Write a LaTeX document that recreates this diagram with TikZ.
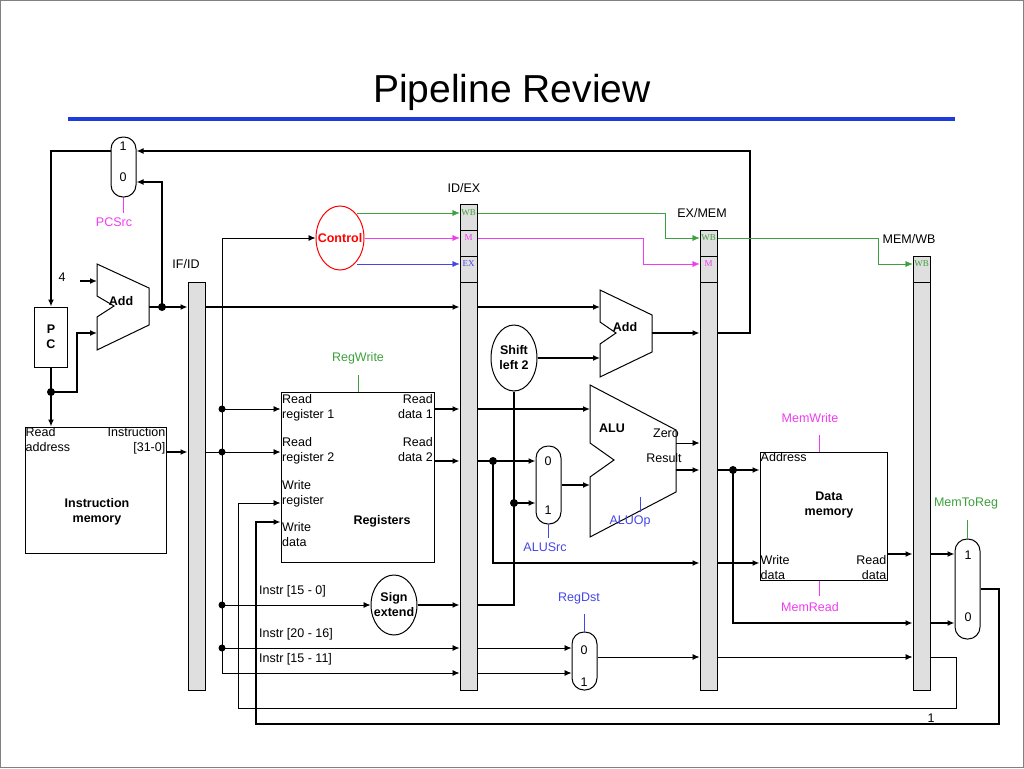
\documentclass[tikz,border=0pt]{standalone}
\usepackage{fontspec}
\setmainfont{Liberation Sans}
\newfontfamily\serf{Liberation Serif}
\usetikzlibrary{arrows,arrows.meta,shapes,positioning,calc}
\definecolor{wbgreen}{RGB}{60,160,60}
\definecolor{mmag}{RGB}{240,60,240}
\definecolor{exblue}{RGB}{70,70,230}
\definecolor{titleblue}{RGB}{30,60,220}
\begin{document}
\begin{tikzpicture}[x=1pt, y=-1pt, >={Latex[length=7pt,width=6pt]},
    bus/.style={line width=2pt},
    sig/.style={line width=0.9pt},
    box/.style={draw, line width=1pt, inner sep=0},
    mux/.style={draw, line width=1pt, rounded corners=12pt, minimum width=25pt, inner sep=0},
    bar/.style={draw, fill=gray!25, line width=1pt, minimum width=17pt, inner sep=0, anchor=north},
    txt/.style={font=\fontsize{12.5}{15}\selectfont, inner sep=1pt},
    btxt/.style={font=\fontsize{12.5}{15}\selectfont\bfseries, inner sep=1pt, align=center},
    seg/.style={font=\fontsize{9}{10}\selectfont\serf, inner sep=0}]
    \useasboundingbox (0,0) rectangle (1024,768);
    \draw[gray, line width=1pt] (0.5,0.5) rectangle (1023.5,767.5);
    \node[font=\fontsize{39}{43}\selectfont] (title) at (512,92) {Pipeline Review};
    \draw[titleblue, line width=3.5pt] (68,119) -- (955,119);
    %%%%%%%%%% pipeline registers
    \node[bar, minimum height=408pt] (ifid) at (196.5,282) {};
    \node[bar, minimum height=486pt] (idex) at (468.5,204) {};
    \node[bar, minimum height=460pt] (exmem) at (708.5,230) {};
    \node[bar, minimum height=434pt] (memwb) at (921.5,256) {};
    \node[txt] at (186,264) {IF/ID};
    \node[txt] at (464,188) {ID/EX};
    \node[txt] at (702,213) {EX/MEM};
    \node[txt] at (909,239) {MEM/WB};
    \draw[line width=1pt] (460,230) -- (477,230) (460,256) -- (477,256) (460,282) -- (477,282);
    \draw[line width=1pt] (700,256) -- (717,256) (700,282) -- (717,282);
    \draw[line width=1pt] (913,282) -- (930,282);
    \node[seg, wbgreen] at (468.5,213) {WB};
    \node[seg, mmag] at (468.5,238) {M};
    \node[seg, exblue] at (468.5,264) {EX};
    \node[seg, wbgreen] at (708.5,238) {WB};
    \node[seg, mmag] at (708.5,264) {M};
    \node[seg, wbgreen] at (921.5,264) {WB};
    %%%%%%%%%% IF stage
    \node[mux, minimum height=60pt] (pcmux) at (123.5,167) {};
    \node[txt] at (123,146) {1};
    \node[txt] at (123,177) {0};
    \node[txt, mmag] (pcsrc) at (114,222) {PCSrc};
    \draw[mmag] (pcmux.south) -- (123.5,213);
    \node[box, minimum width=33pt, minimum height=60pt] (pc) at (51,337) {};
    \node[btxt, align=center] at (pc) {P\\C};
    \draw[line width=1pt] (97,264) -- (149,288) -- (149,325) -- (97,350) -- (97,317) -- (114,306) -- (97,296) -- cycle;
    \node[btxt] (add1) at (121,301) {Add};
    \node[txt] (four) at (62,277) {4};
    \node[box, minimum width=141pt, minimum height=126pt] (imem) at (95.5,490) {};
    \node[txt, align=left, anchor=north west] at (imem.north west) {Read\\address};
    \node[txt, align=right, anchor=north east] at (imem.north east) {Instruction\\{[31-0]}};
    \node[btxt] at (97,512) {Instruction\\memory};
    %%%%%%%%%% ID stage
    \node[draw, ellipse, red, line width=1pt, minimum width=48pt, minimum height=64pt, inner sep=0] (ctrl) at (340,238) {};
    \node[btxt, red] at (ctrl) {Control};
    \node[box, minimum width=153pt, minimum height=170pt] (regs) at (357.5,477) {};
    \node[txt, align=left, anchor=north west] at (281,393) {Read\\register 1};
    \node[txt, align=right, anchor=north east] at (434,393) {Read\\data 1};
    \node[txt, align=left, anchor=north west] at (281,436) {Read\\register 2};
    \node[txt, align=right, anchor=north east] at (434,436) {Read\\data 2};
    \node[txt, align=left, anchor=north west] at (281,479) {Write\\register};
    \node[txt, align=left, anchor=north west] at (281,521) {Write\\data};
    \node[btxt] at (382,521) {Registers};
    \node[txt, wbgreen] (regwrite) at (358,358) {RegWrite};
    \draw[wbgreen] (358,375) -- (regs.north -| 358,0);
    \node[draw, ellipse, line width=1pt, minimum width=46pt, minimum height=60pt, inner sep=0] (sext) at (394,605) {};
    \node[btxt] at (sext) {Sign\\extend};
    \node[txt, anchor=south west] at (258,598) {Instr [15 - 0]};
    \node[txt, anchor=south west] at (258,641) {Instr [20 - 16]};
    \node[txt, anchor=south west] at (258,666) {Instr [15 - 11]};
    %%%%%%%%%% EX stage
    \node[draw, ellipse, line width=1pt, minimum width=46pt, minimum height=66pt, inner sep=0] (shl) at (514,358) {};
    \node[btxt] at (shl) {Shift\\left 2};
    \draw[line width=1pt] (600,290) -- (652,315) -- (652,352) -- (600,377) -- (600,344) -- (616,333) -- (600,322) -- cycle;
    \node[btxt] (add2) at (625,327) {Add};
    \draw[line width=1pt] (590,385) -- (676,430) -- (676,492) -- (590,537) -- (590,477) -- (614,460) -- (590,443) -- cycle;
    \node[btxt] (alu) at (612,428) {ALU};
    \node[txt] at (666,433) {Zero};
    \node[txt] at (664,458) {Result};
    \node[txt, exblue] (aluop) at (630,521) {ALUOp};
    \draw[exblue] (640,497) -- (640,512);
    \node[mux, minimum height=78pt] (srcmux) at (548.5,485) {};
    \node[txt] at (548,461) {0};
    \node[txt] at (548,510) {1};
    \node[txt, exblue] (alusrc) at (545,547) {ALUSrc};
    \draw[exblue] (srcmux.south) -- (548.5,538);
    \node[mux, minimum height=58pt] (dstmux) at (584.5,661) {};
    \node[txt] at (584,650) {0};
    \node[txt] at (584,682) {1};
    \node[txt, exblue] (regdst) at (579,598) {RegDst};
    \draw[exblue] (584.5,614) -- (dstmux.north);
    %%%%%%%%%% MEM and WB stages
    \node[box, minimum width=127pt, minimum height=128pt] (dmem) at (823.5,516) {};
    \node[txt, anchor=north west] at (dmem.north west) {Address};
    \node[btxt] at (829,505) {Data\\memory};
    \node[txt, align=left, anchor=south west] at (dmem.south west) {Write\\data};
    \node[txt, align=right, anchor=south east] at (dmem.south east) {Read\\data};
    \node[txt, mmag] (memwrite) at (810,418) {MemWrite};
    \draw[mmag] (819,435) -- (dmem.north -| 819,0);
    \node[txt, mmag] (memread) at (810,607) {MemRead};
    \draw[mmag] (dmem.south -| 819,0) -- (819,596);
    \node[mux, minimum height=100pt] (wbmux) at (967.5,589) {};
    \node[txt] at (968,555) {1};
    \node[txt] at (968,617) {0};
    \node[txt, wbgreen] (memtoreg) at (966,503) {MemToReg};
    \draw[wbgreen] (967.5,520) -- (wbmux.north);
    \node[txt] at (931,718) {1};
    %%%%%%%%%% IF connections
    \draw[bus, ->] (pcmux.west |- 0,151) -- (51,151) -- (pc.north);
    \draw[bus, ->] (pc.south) -- (imem.north -| pc);
    \fill (51,392) circle (4pt);
    \draw[bus, ->] (51,392) -- (77,392) -- (77,333) -- (97,333);
    \draw[bus, ->] (80,281) -- (97,281);
    \draw[bus, ->] (149,307) -- (ifid.west |- 0,307);
    \fill (162,307) circle (4pt);
    \draw[bus, ->] (162,307) -- (162,182) -- (pcmux.east |- 0,182);
    \draw[bus, ->] (imem.east |- 0,452) -- (ifid.west |- 0,452);
    \draw[bus, ->] (exmem.east |- 0,333) -- (750,333) -- (750,151) -- (pcmux.east |- 0,151);
    %%%%%%%%%% ID connections
    \draw[bus, ->] (ifid.east |- 0,307) -- (idex.west |- 0,307);
    \draw[sig] (ifid.east |- 0,452) -- (222,452);
    \draw[sig, ->] (222,673) -- (222,238) -- (ctrl.west);
    \foreach \yy in {409,452,605,648} \fill (222,\yy) circle (3.5pt);
    \draw[sig, ->] (222,409) -- (regs.west |- 0,409);
    \draw[sig, ->] (222,452) -- (regs.west |- 0,452);
    \draw[sig, ->] (222,605) -- (sext.west);
    \draw[sig, ->] (222,648) -- (idex.west |- 0,648);
    \draw[sig, ->] (222,673) -- (idex.west |- 0,673);
    \draw[wbgreen, ->] (ctrl.north east |- 0,213) -- (idex.west |- 0,213);
    \draw[mmag, ->] (ctrl.east) -- (idex.west |- 0,238);
    \draw[exblue, ->] (ctrl.south east |- 0,264) -- (idex.west |- 0,264);
    \draw[bus, ->] (regs.east |- 0,409) -- (idex.west |- 0,409);
    \draw[bus, ->] (regs.east |- 0,461) -- (idex.west |- 0,461);
    \draw[bus, ->] (sext.east) -- (idex.west |- 0,605);
    %%%%%%%%%% EX connections
    \draw[wbgreen, ->] (idex.east |- 0,213) -- (665,213) -- (665,238) -- (exmem.west |- 0,238);
    \draw[mmag, ->] (idex.east |- 0,238) -- (643,238) -- (643,264) -- (exmem.west |- 0,264);
    \draw[bus, ->] (idex.east |- 0,307) -- (600,307);
    \draw[bus, ->] (shl.east) -- (600,358);
    \draw[bus, ->] (652,333) -- (exmem.west |- 0,333);
    \draw[bus, ->] (idex.east |- 0,409) -- (590,409);
    \draw[bus, ->] (idex.east |- 0,461) -- (srcmux.west |- 0,461);
    \fill (493,461) circle (4pt);
    \draw[bus, ->] (493,461) -- (493,563) -- (exmem.west |- 0,563);
    \draw[bus] (idex.east |- 0,605) -- (514,605) -- (shl.south);
    \fill (514,503) circle (4pt);
    \draw[bus, ->] (514,503) -- (srcmux.west |- 0,503);
    \draw[bus, ->] (srcmux.east) -- (590,485);
    \draw[sig, ->] (676,443) -- (exmem.west |- 0,443);
    \draw[bus, ->] (676,470) -- (exmem.west |- 0,470);
    \draw[sig, ->] (idex.east |- 0,648) -- (dstmux.west |- 0,648);
    \draw[sig, ->] (idex.east |- 0,673) -- (dstmux.west |- 0,673);
    \draw[sig, ->] (dstmux.east |- 0,657) -- (exmem.west |- 0,657);
    %%%%%%%%%% MEM and WB connections
    \draw[wbgreen, ->] (exmem.east |- 0,238) -- (878,238) -- (878,264) -- (memwb.west |- 0,264);
    \draw[bus, ->] (exmem.east |- 0,470) -- (dmem.west |- 0,470);
    \fill (733,470) circle (4pt);
    \draw[bus, ->] (733,470) -- (733,623) -- (memwb.west |- 0,623);
    \draw[bus, ->] (exmem.east |- 0,563) -- (dmem.west |- 0,563);
    \draw[bus, ->] (dmem.east |- 0,554) -- (memwb.west |- 0,554);
    \draw[bus, ->] (memwb.east |- 0,554) -- (wbmux.west |- 0,554);
    \draw[bus, ->] (memwb.east |- 0,623) -- (wbmux.west |- 0,623);
    \draw[sig, ->] (exmem.east |- 0,657) -- (memwb.west |- 0,657);
    \draw[sig, ->] (memwb.east |- 0,657) -- (956,657) -- (956,708) -- (238,708) -- (238,503) -- (regs.west |- 0,503);
    \draw[bus, ->] (wbmux.east) -- (999,589) -- (999,724) -- (256,724) -- (256,522) -- (regs.west |- 0,522);
\end{tikzpicture}
\end{document}
